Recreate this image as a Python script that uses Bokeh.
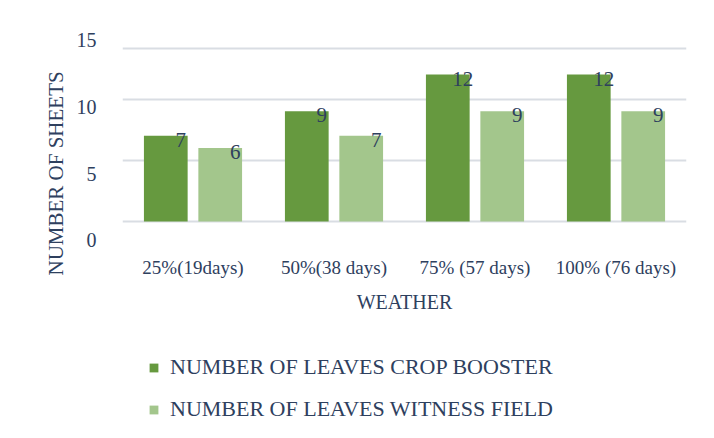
from bokeh.plotting import figure
from bokeh.layouts import column
from bokeh.models import (FactorRange, Range1d, LinearAxis, FixedTicker, ColumnDataSource,
                          Legend, LegendItem, Span, Title)
from bokeh.transform import dodge
from bokeh.core.properties import value
from bokeh.embed import file_html
from bokeh.resources import INLINE

# ---- data ----
categories = ["25%(19days)", "50%(38 days)", "75% (57 days)", "100% (76 days)"]
crop_booster = [7, 9, 12, 12]
witness_field = [6, 7, 9, 9]
series_names = ["NUMBER OF LEAVES CROP BOOSTER", "NUMBER OF LEAVES WITNESS FIELD"]
y_ticks = [0, 5, 10, 15]
grid_ticks = [0, 5, 10]

FONT = "Liberation Serif"
TEXT = "#2e405e"
GRID = "#d9dde3"
DARK = "#66993f"
LIGHT = "#a3c68c"

src = ColumnDataSource(dict(
    cat=categories, a=crop_booster, b=witness_field,
    a_lab=[str(v) for v in crop_booster], b_lab=[str(v) for v in witness_field]))

# ---- main chart ----
p = figure(width=714, frame_width=564, frame_height=209,
           x_range=FactorRange(factors=categories, range_padding=0),
           y_range=Range1d(-1.63, 15.43),
           output_backend="svg", toolbar_location=None, y_axis_location=None,
           min_border_left=122, min_border_right=28, min_border_top=32, min_border_bottom=99)
p.outline_line_color = None
p.background_fill_color = "white"

r1 = p.vbar(x=dodge("cat", -0.193, range=p.x_range), top="a", bottom=0, width=0.31,
            source=src, fill_color=DARK, line_color=None)
r2 = p.vbar(x=dodge("cat", 0.193, range=p.x_range), top="b", bottom=0, width=0.31,
            source=src, fill_color=LIGHT, line_color=None)

for col, lab, off in (("a", "a_lab", -0.193), ("b", "b_lab", 0.193)):
    p.text(x=dodge("cat", off, range=p.x_range), y=col, text=lab, source=src,
           x_offset=15, y_offset=4, text_align="center", text_baseline="middle",
           text_font=value(FONT), text_font_size="21px", text_color=TEXT)

# grid
p.xgrid.visible = False
p.ygrid.ticker = FixedTicker(ticks=grid_ticks)
p.ygrid.grid_line_color = GRID
p.ygrid.grid_line_width = 2
p.add_layout(Span(location=14.12, dimension="width", line_color=GRID, line_width=2))

# x axis
xa = p.xaxis[0]
xa.axis_line_color = None
xa.major_tick_line_color = None
xa.minor_tick_line_color = None
xa.major_label_standoff = 9
xa.major_label_text_font = FONT
xa.major_label_text_font_size = "19px"
xa.major_label_text_color = TEXT
xa.axis_label = "WEATHER"
xa.axis_label_text_font = FONT
xa.axis_label_text_font_size = "20px"
xa.axis_label_text_font_style = "normal"
xa.axis_label_text_color = TEXT
xa.axis_label_standoff = 10

# y axis labels
p.extra_y_ranges = {"lab": Range1d(-0.09, 15.58)}
ya = LinearAxis(y_range_name="lab", ticker=FixedTicker(ticks=y_ticks),
                axis_line_color=None, major_tick_line_color=None, minor_tick_line_color=None,
                major_label_standoff=20, major_label_text_font=FONT,
                major_label_text_font_size="20px", major_label_text_color=TEXT)
p.add_layout(ya, "left")

yt = Title(text="NUMBER OF SHEETS", align="left", offset=-34, text_font=FONT,
           text_font_size="21px", text_font_style="normal", text_color=TEXT, standoff=12)
p.add_layout(yt, "left")

# ---- legend strip ----
q = figure(width=714, height=98, x_range=Range1d(0, 1), y_range=Range1d(0, 1),
           output_backend="svg", toolbar_location=None,
           x_axis_location=None, y_axis_location=None,
           min_border_left=0, min_border_right=0, min_border_top=0, min_border_bottom=0)
q.outline_line_color = None
q.grid.visible = False
# legend swatches only (kept outside the visible range)
swatch = ColumnDataSource(dict(x=[-5], top=[-5]))
g1 = q.vbar(x="x", top="top", bottom=-6, width=0.1, source=swatch, fill_color=DARK, line_color=None)
g2 = q.vbar(x="x", top="top", bottom=-6, width=0.1, source=swatch, fill_color=LIGHT, line_color=None)

legend = Legend(items=[LegendItem(label=series_names[0], renderers=[g1], index=0),
                       LegendItem(label=series_names[1], renderers=[g2], index=0)],
                location=(26, 16), orientation="vertical",
                glyph_width=11, glyph_height=11, label_standoff=11, label_height=26,
                spacing=16, padding=0, margin=0, border_line_color=None,
                background_fill_alpha=0, label_text_font=FONT,
                label_text_font_size="22px", label_text_color=TEXT)
q.add_layout(legend, "center")

layout = column(p, q, spacing=0)
open("out.html", "w").write(file_html(layout, INLINE))
